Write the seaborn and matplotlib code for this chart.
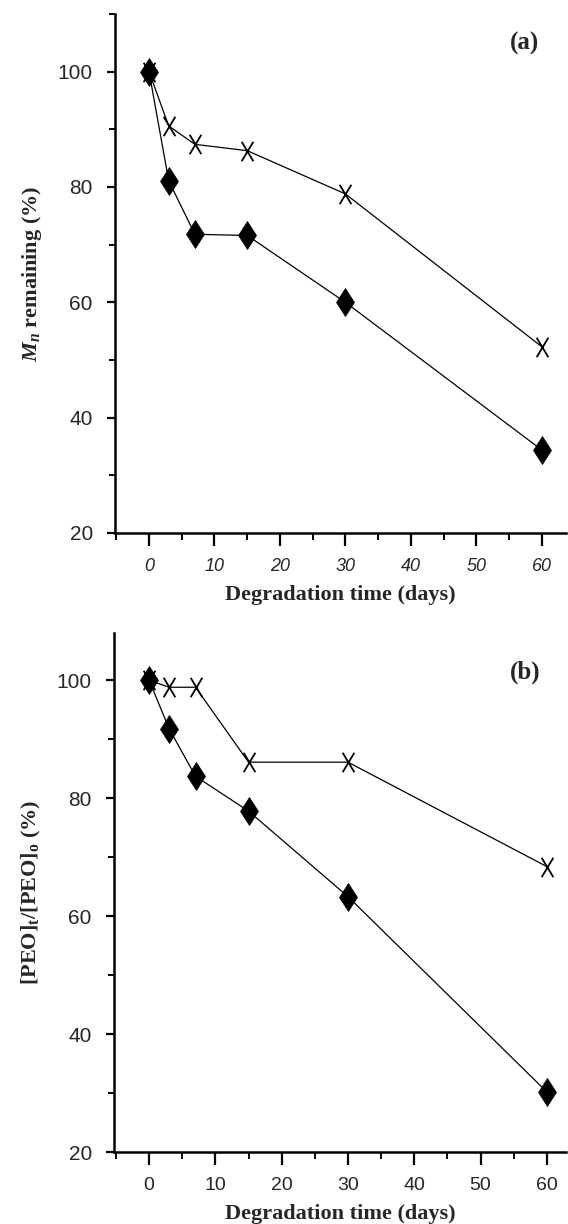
import numpy as np
import pandas as pd
import matplotlib
matplotlib.use("Agg")
import matplotlib.pyplot as plt
from matplotlib.ticker import MultipleLocator
from matplotlib.path import Path
import seaborn as sns

# Degradation time points (days)
days = [0, 3, 7, 15, 30, 60]

# (a) Mn remaining (%)
mn_cross = [100, 90.6, 87.4, 86.3, 78.8, 52.3]
mn_diamond = [100, 81.1, 71.8, 71.6, 60.0, 34.4]

# (b) [PEO]t/[PEO]0 (%)
peo_cross = [100, 98.8, 98.8, 86.1, 86.1, 68.4]
peo_diamond = [100, 91.8, 83.7, 77.8, 63.3, 30.2]

xticks = [0, 10, 20, 30, 40, 50, 60]
yticks = [20, 40, 60, 80, 100]

sns.set_theme(style="ticks")
plt.rcParams.update({
    "font.family": ["Liberation Sans", "DejaVu Sans"],
    "mathtext.fontset": "custom",
    "mathtext.rm": "Liberation Serif:bold",
    "mathtext.it": "Liberation Serif:italic:bold",
    "mathtext.sf": "Liberation Sans",
})

fig = plt.figure(figsize=(5.68, 12.24), dpi=100)
W, H = 568, 1224
ax_a = fig.add_axes([115 / W, 1 - 533 / H, (566 - 115) / W, (533 - 14) / H])
ax_b = fig.add_axes([114 / W, 1 - 1152 / H, (566 - 114) / W, (1152 - 633) / H])

# tall, narrow "X" cross marker
cross_marker = Path([(-0.3, -0.5), (0.3, 0.5), (-0.3, 0.5), (0.3, -0.5)],
                    [Path.MOVETO, Path.LINETO, Path.MOVETO, Path.LINETO])


def draw(ax, cross, diamond):
    df_c = pd.DataFrame({"day": days, "val": cross})
    df_d = pd.DataFrame({"day": days, "val": diamond})
    sns.lineplot(data=df_c, x="day", y="val", ax=ax, color="black", lw=0.9,
                 marker=cross_marker, markersize=14, markeredgewidth=1.3,
                 markerfacecolor="none", markeredgecolor="black")
    sns.lineplot(data=df_d, x="day", y="val", ax=ax, color="black", lw=0.9,
                 marker="d", markersize=14.5, markeredgewidth=0.5,
                 markerfacecolor="black", markeredgecolor="black")


draw(ax_a, mn_cross, mn_diamond)
draw(ax_b, peo_cross, peo_diamond)

label_font = dict(family="Liberation Serif", weight="bold", size=16)

for ax, xlim, ylim in [(ax_a, (-5.2, 63.7), (20, 110)), (ax_b, (-5.3, 62.9), (20, 108))]:
    ax.set_xlim(*xlim)
    ax.set_ylim(*ylim)
    ax.set_xticks(xticks)
    ax.set_yticks(yticks)
    ax.xaxis.set_minor_locator(MultipleLocator(5))
    ax.yaxis.set_minor_locator(MultipleLocator(10))
    for side in ("top", "right"):
        ax.spines[side].set_visible(False)
    for side in ("left", "bottom"):
        ax.spines[side].set_linewidth(1.8)
        ax.spines[side].set_color("black")
    ax.tick_params(axis="x", which="major", direction="out", length=9, width=1.6,
                   labelsize=14, pad=9, color="black")
    ax.tick_params(axis="x", which="minor", direction="out", length=5, width=1.4, color="black")
    ax.tick_params(axis="y", which="major", direction="out", length=6, width=1.6,
                   labelsize=15, pad=10, color="black")
    ax.tick_params(axis="y", which="minor", direction="out", length=4, width=1.4, color="black")
    ax.set_xlabel("Degradation time (days)", fontdict=label_font)
    ax.xaxis.set_label_coords(0.5, -0.1)
    ax.grid(False)

ax_a.tick_params(axis="x", labelsize=13)
for t in ax_a.get_xticklabels():
    t.set_style("italic")

ax_a.set_ylabel(r"$M_n$ remaining (%)", fontdict=label_font)
ax_b.set_ylabel(r"[PEO]$_\mathrm{t}$/[PEO]$_\mathrm{o}$ (%)", fontdict=label_font)
ax_a.yaxis.set_label_coords(-0.158, 0.5)
ax_b.yaxis.set_label_coords(-0.158, 0.5)

ax_a.text(0.909, 0.944, "(a)", transform=ax_a.transAxes, ha="center", va="center",
          fontfamily="Liberation Serif", fontweight="bold", fontsize=18)
ax_b.text(0.909, 0.925, "(b)", transform=ax_b.transAxes, ha="center", va="center",
          fontfamily="Liberation Serif", fontweight="bold", fontsize=18)

fig.savefig("out.png", dpi=100, facecolor="white")
